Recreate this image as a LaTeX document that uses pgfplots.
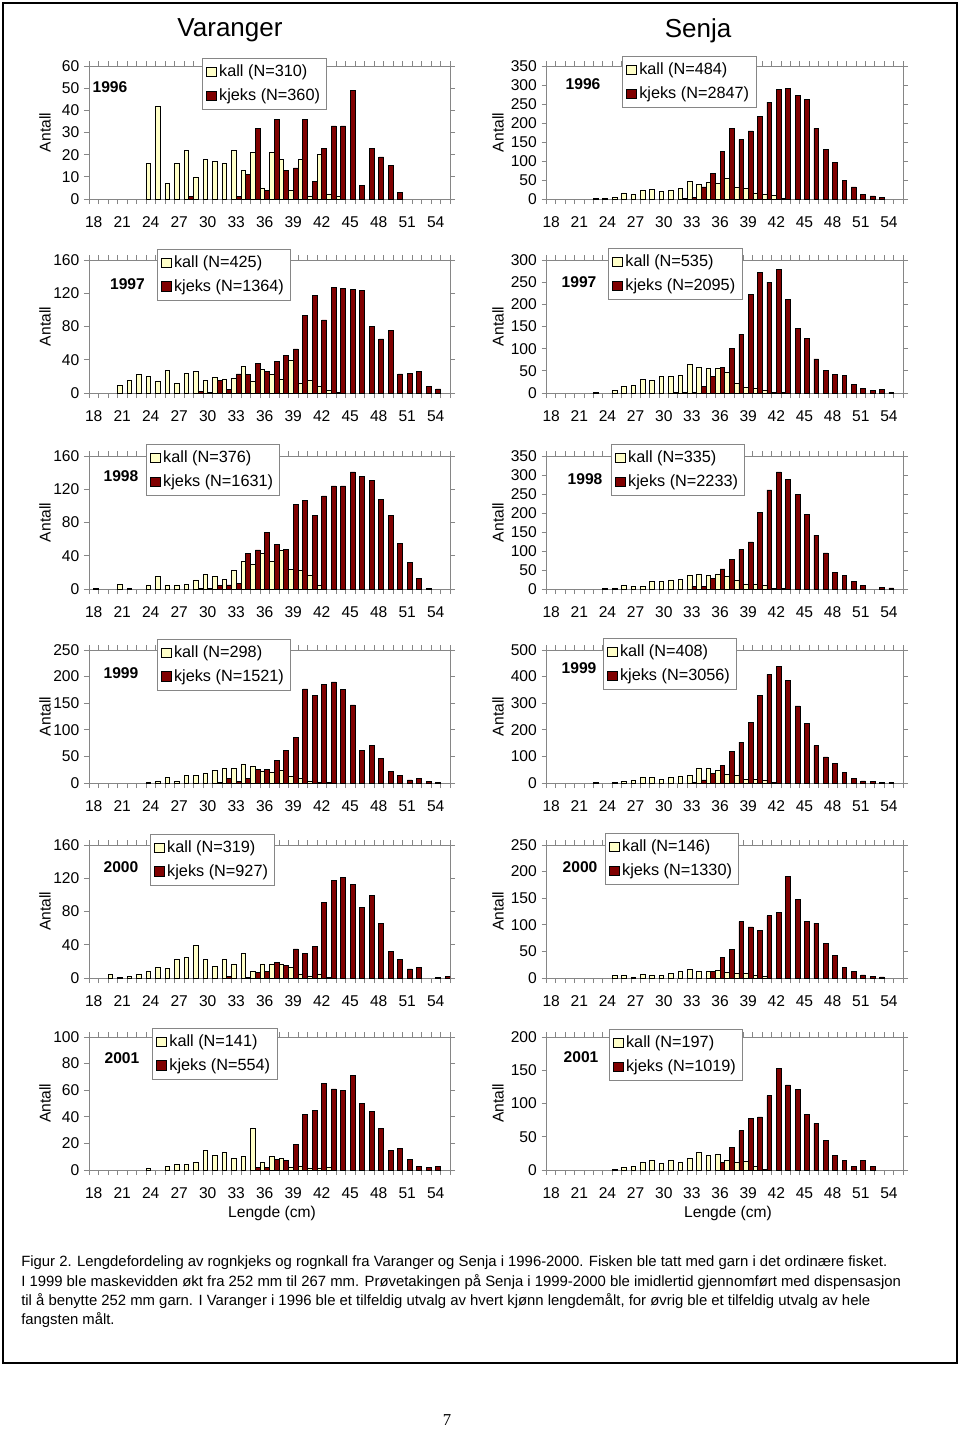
\documentclass[border=0pt]{standalone}
\usepackage{fontspec}
\setmainfont{Liberation Sans}
\newfontfamily\serifnum{Liberation Serif}
\usepackage{pgfplots}
\pgfplotsset{compat=1.18}
\definecolor{kall}{HTML}{FFFFC8}
\definecolor{kjeks}{HTML}{800000}
\definecolor{axgray}{HTML}{868686}
\newcommand{\tickf}{\fontsize{11.7}{13}\selectfont}
\newcommand{\legf}{\fontsize{12.2}{14}\selectfont}
\newcommand{\capf}{\fontsize{11.15}{13}\selectfont}
\pgfplotsset{
  panel/.style={
    scale only axis, height=99.75pt,
    xmin=17.5, xmax=55.5, ymin=0, enlargelimits=false,
    axis line style={draw=axgray, line width=0.6pt},
    tick style={draw=axgray, line width=0.6pt},
    tick align=outside, major tick length=3.75pt,
    xtick={17.5,18.5,...,55.5}, xticklabels={},
    extra x ticks={18,21,...,54},
    extra x tick labels={18,21,24,27,30,33,36,39,42,45,48,51,54},
    extra x tick style={major tick length=0pt},
    xticklabel style={font=\tickf, yshift=-9.5pt},
    yticklabel style={font=\tickf},
    /pgf/number format/assume math mode=true,
    ybar, bar width=0.5,
    legend style={draw=axgray, fill=white, anchor=north west, font=\legf,
       inner xsep=3pt, inner ysep=3pt, row sep=3.5pt},
    legend cell align=left,
  },
  lp/.style={panel, width=270.75pt},
  rp/.style={panel, width=267.375pt},
  kallbar/.style={fill=kall, draw=black, line width=0.45pt, bar shift=-0.25,
    legend image code/.code={\draw[fill=kall,draw=black,line width=0.5pt] (0pt,-3.6pt) rectangle (7.2pt,3.6pt);}},
  kjeksbar/.style={fill=kjeks, draw=black, line width=0.45pt, bar shift=0.25,
    legend image code/.code={\draw[fill=kjeks,draw=black,line width=0.5pt] (0pt,-3.6pt) rectangle (7.2pt,3.6pt);}},
}
\begin{document}
\begin{tikzpicture}
\path[use as bounding box] (0pt,0pt) rectangle (720pt,-1071.75pt);
\draw[line width=1.2pt] (2.25pt,-2.25pt) rectangle (717.75pt,-1022.25pt);
\node[font=\fontsize{19.5}{22}\selectfont] at (172.5pt,-23pt) {Varanger};
\node[font=\fontsize{19.5}{22}\selectfont] at (523.5pt,-23pt) {Senja};

% ---------- Row 1: 1996 ----------
\begin{axis}[lp, at={(66.75pt,-149.25pt)}, anchor=south west,
  ymax=60, ytick={0,10,...,60}, legend style={at={(0.313,1.060)}}]
\addplot[kallbar] coordinates {(24,16)(25,42)(26,7)(27,16)(28,22)(29,10)(30,18)(31,17)(32,16)(33,22)(34,13)(35,21)(36,5)(37,21)(38,18)(39,4)(40,18)(41,1)(42,20)(43,2)(44,1)};
\addplot[kjeksbar] coordinates {(28,1)(33,1)(34,11)(35,32)(36,4)(37,36)(38,13)(39,14)(40,36)(41,8)(42,23)(43,33)(44,33)(45,49)(46,6)(47,23)(48,19)(49,15)(50,3)};
\legend{kall (N=310), kjeks (N=360)}
\end{axis}
\begin{axis}[rp, at={(409.875pt,-149.25pt)}, anchor=south west,
  ymax=350, ytick={0,50,...,350}, legend style={at={(0.212,1.075)}}]
\addplot[kallbar] coordinates {(23,2)(24,3)(25,4)(26,16)(27,13)(28,23)(29,25)(30,20)(31,23)(32,27)(33,46)(34,39)(35,44)(36,42)(37,55)(38,31)(39,27)(40,15)(41,12)(42,10)(43,2)};
\addplot[kjeksbar] coordinates {(32,1)(33,5)(34,32)(35,68)(36,125)(37,186)(38,156)(39,179)(40,217)(41,255)(42,288)(43,292)(44,273)(45,263)(46,186)(47,130)(48,96)(49,50)(50,32)(51,13)(52,8)(53,4)};
\legend{kall (N=484), kjeks (N=2847)}
\end{axis}

% ---------- Row 2: 1997 ----------
\begin{axis}[lp, at={(66.75pt,-294.75pt)}, anchor=south west,
  ymax=160, ytick={0,40,...,160}, legend style={at={(0.188,1.083)}}]
\addplot[kallbar] coordinates {(21,9)(22,15)(23,22)(24,20)(25,14)(26,27)(27,12)(28,24)(29,26)(30,15)(31,19)(32,17)(33,18)(34,32)(35,14)(36,28)(37,22)(38,17)(39,39)(40,12)(41,15)(42,8)(43,3)(44,1)};
\addplot[kjeksbar] coordinates {(29,2)(30,1)(31,15)(32,4)(33,23)(34,22)(35,36)(36,26)(37,38)(38,45)(39,53)(40,93)(41,117)(42,88)(43,127)(44,126)(45,125)(46,123)(47,80)(48,65)(49,75)(50,23)(51,24)(52,26)(53,8)(54,5)};
\legend{kall (N=425), kjeks (N=1364)}
\end{axis}
\begin{axis}[rp, at={(409.875pt,-294.75pt)}, anchor=south west,
  ymax=300, ytick={0,50,...,300}, legend style={at={(0.173,1.090)}}]
\addplot[kallbar] coordinates {(23,1)(25,6)(26,15)(27,17)(28,30)(29,29)(30,37)(31,37)(32,40)(33,65)(34,58)(35,56)(36,55)(37,47)(38,22)(39,12)(40,10)(41,5)(42,2)(43,1)};
\addplot[kjeksbar] coordinates {(31,1)(32,2)(33,1)(34,15)(35,37)(36,58)(37,100)(38,133)(39,223)(40,272)(41,250)(42,278)(43,212)(44,146)(45,124)(46,77)(47,51)(48,42)(49,39)(50,20)(51,10)(52,6)(53,8)(54,2)};
\legend{kall (N=535), kjeks (N=2095)}
\end{axis}

% ---------- Row 3: 1998 ----------
\begin{axis}[lp, at={(66.75pt,-441.75pt)}, anchor=south west,
  ymax=160, ytick={0,40,...,160}, legend style={at={(0.158,1.090)}}]
\addplot[kallbar] coordinates {(21,6)(22,1)(24,5)(25,15)(26,5)(27,5)(28,6)(29,11)(30,18)(31,15)(32,12)(33,22)(34,33)(35,30)(36,43)(37,33)(38,46)(39,24)(40,22)(41,17)(42,5)};
\addplot[kjeksbar] coordinates {(18,1)(29,1)(30,1)(31,4)(32,5)(33,7)(34,43)(35,47)(36,68)(37,54)(38,48)(39,102)(40,107)(41,89)(42,112)(43,124)(44,124)(45,141)(46,135)(47,131)(48,108)(49,89)(50,55)(51,32)(52,13)(53,1)};
\legend{kall (N=376), kjeks (N=1631)}
\end{axis}
\begin{axis}[rp, at={(409.875pt,-441.75pt)}, anchor=south west,
  ymax=350, ytick={0,50,...,350}, legend style={at={(0.181,1.090)}}]
\addplot[kallbar] coordinates {(24,2)(25,3)(26,9)(27,6)(28,7)(29,19)(30,19)(31,24)(32,25)(33,37)(34,40)(35,35)(36,40)(37,34)(38,24)(39,13)(40,13)(41,9)(42,2)(43,1)};
\addplot[kjeksbar] coordinates {(33,7)(34,7)(35,28)(36,53)(37,77)(38,104)(39,124)(40,202)(41,261)(42,308)(43,288)(44,250)(45,196)(46,142)(47,95)(48,44)(49,35)(50,21)(51,9)(53,4)(54,3)};
\legend{kall (N=335), kjeks (N=2233)}
\end{axis}

% ---------- Row 4: 1999 ----------
\begin{axis}[lp, at={(66.75pt,-587.25pt)}, anchor=south west,
  ymax=250, ytick={0,50,...,250}, legend style={at={(0.188,1.083)}}]
\addplot[kallbar] coordinates {(24,2)(25,3)(26,11)(27,4)(28,14)(29,15)(30,18)(31,24)(32,27)(33,27)(34,36)(35,32)(36,22)(37,20)(38,23)(39,13)(40,8)(41,4)(42,2)(43,1)};
\addplot[kjeksbar] coordinates {(31,1)(32,8)(33,3)(34,9)(35,25)(36,25)(37,43)(38,61)(39,85)(40,177)(41,165)(42,185)(43,190)(44,176)(45,147)(46,61)(47,71)(48,47)(49,22)(50,15)(51,6)(52,8)(53,3)(54,1)};
\legend{kall (N=298), kjeks (N=1521)}
\end{axis}
\begin{axis}[rp, at={(409.875pt,-587.25pt)}, anchor=south west,
  ymax=500, ytick={0,100,...,500}, legend style={at={(0.158,1.090)}}]
\addplot[kallbar] coordinates {(23,1)(25,2)(26,5)(27,11)(28,23)(29,21)(30,14)(31,20)(32,27)(33,30)(34,57)(35,56)(36,47)(37,33)(38,29)(39,13)(40,13)(41,9)(42,3)};
\addplot[kjeksbar] coordinates {(33,2)(34,12)(35,36)(36,66)(37,119)(38,154)(39,229)(40,329)(41,408)(42,438)(43,386)(44,290)(45,225)(46,141)(47,98)(48,73)(49,39)(50,16)(51,8)(52,6)(53,3)(54,2)};
\legend{kall (N=408), kjeks (N=3056)}
\end{axis}

% ---------- Row 5: 2000 ----------
\begin{axis}[lp, at={(66.75pt,-733.5pt)}, anchor=south west,
  ymax=160, ytick={0,40,...,160}, legend style={at={(0.169,1.083)}}]
\addplot[kallbar] coordinates {(20,4)(21,1)(22,2)(23,4)(24,8)(25,13)(26,12)(27,23)(28,25)(29,39)(30,22)(31,14)(32,23)(33,17)(34,30)(35,8)(36,17)(37,17)(38,17)(39,13)(40,4)(41,2)(42,5)(43,1)};
\addplot[kjeksbar] coordinates {(32,2)(34,1)(35,7)(36,8)(37,19)(38,15)(39,35)(40,30)(41,38)(42,91)(43,117)(44,121)(45,113)(46,85)(47,99)(48,66)(49,32)(50,22)(51,11)(52,13)(54,1)(55,2)};
\legend{kall (N=319), kjeks (N=927)}
\end{axis}
\begin{axis}[rp, at={(409.875pt,-733.5pt)}, anchor=south west,
  ymax=250, ytick={0,50,...,250}, legend style={at={(0.164,1.090)}}]
\addplot[kallbar] coordinates {(25,5)(26,6)(27,2)(28,7)(29,6)(30,6)(31,9)(32,13)(33,16)(34,12)(35,12)(36,15)(37,11)(38,9)(39,9)(40,6)(41,3)};
\addplot[kjeksbar] coordinates {(35,12)(36,39)(37,54)(38,106)(39,96)(40,89)(41,117)(42,124)(43,191)(44,148)(45,107)(46,103)(47,65)(48,42)(49,20)(50,12)(51,6)(52,3)(53,2)};
\legend{kall (N=146), kjeks (N=1330)}
\end{axis}

% ---------- Row 6: 2001 ----------
\begin{axis}[lp, at={(66.75pt,-877.5pt)}, anchor=south west,
  ymax=100, ytick={0,20,...,100}, legend style={at={(0.175,1.068)}}]
\addplot[kallbar] coordinates {(24,1)(26,3)(27,4)(28,4)(29,6)(30,15)(31,11)(32,13)(33,9)(34,10)(35,31)(36,6)(37,10)(38,9)(39,2)(40,3)(41,1)(42,1)(43,2)};
\addplot[kjeksbar] coordinates {(35,2)(36,2)(37,8)(38,7)(39,19)(40,42)(41,45)(42,65)(43,61)(44,60)(45,71)(46,50)(47,44)(48,31)(49,15)(50,16)(51,8)(52,3)(53,2)(54,3)};
\legend{kall (N=141), kjeks (N=554)}
\end{axis}
\begin{axis}[rp, at={(409.875pt,-877.5pt)}, anchor=south west,
  ymax=200, ytick={0,50,...,200}, legend style={at={(0.175,1.060)}}]
\addplot[kallbar] coordinates {(25,1)(26,4)(27,6)(28,12)(29,14)(30,10)(31,15)(32,11)(33,18)(34,26)(35,22)(36,23)(37,14)(38,11)(39,13)(40,6)(41,1)};
\addplot[kjeksbar] coordinates {(36,11)(37,34)(38,59)(39,78)(40,80)(41,112)(42,153)(43,128)(44,121)(45,84)(46,70)(47,45)(48,22)(49,15)(50,5)(51,14)(52,5)};
\legend{kall (N=197), kjeks (N=1019)}
\end{axis}

% ---------- year labels ----------
\begin{scope}[every node/.style={font=\bfseries\fontsize{11.7}{13}\selectfont}]
\node at (82.5pt,-65.25pt) {1996};
\node at (437.25pt,-63pt) {1996};
\node at (95.6pt,-213pt) {1997};
\node at (434.25pt,-211.5pt) {1997};
\node at (90.75pt,-357pt) {1998};
\node at (438.75pt,-359.25pt) {1998};
\node at (90.75pt,-504.75pt) {1999};
\node at (434.25pt,-501pt) {1999};
\node at (90.75pt,-650.25pt) {2000};
\node at (435pt,-650.25pt) {2000};
\node at (91.5pt,-793.5pt) {2001};
\node at (435.75pt,-792.75pt) {2001};
\end{scope}

% ---------- Antall labels ----------
\begin{scope}[every node/.style={font=\fontsize{11.7}{13}\selectfont, rotate=90}]
\foreach \yy in {-99.4,-244.9,-391.9,-537.4,-683.6,-827.6} {
  \node at (33.75pt,\yy pt) {Antall};
  \node at (373.5pt,\yy pt) {Antall};
}
\end{scope}

\node[font=\fontsize{11.7}{13}\selectfont] at (204pt,-909.75pt) {Lengde (cm)};
\node[font=\fontsize{11.7}{13}\selectfont] at (546pt,-909.75pt) {Lengde (cm)};

% ---------- caption ----------
\begin{scope}[every node/.style={font=\capf, anchor=west, inner sep=0pt}]
\node at (15.75pt,-947.25pt) {Figur 2. Lengdefordeling av rognkjeks og rognkall fra Varanger og Senja i 1996-2000. Fisken ble tatt med garn i det ordinære fisket.};
\node at (15.75pt,-961.5pt) {I 1999 ble maskevidden økt fra 252 mm til 267 mm. Prøvetakingen på Senja i 1999-2000 ble imidlertid gjennomført med dispensasjon};
\node at (15.75pt,-975.75pt) {til å benytte 252 mm garn. I Varanger i 1996 ble et tilfeldig utvalg av hvert kjønn lengdemålt, for øvrig ble et tilfeldig utvalg av hele};
\node at (15.75pt,-990pt) {fangsten målt.};
\end{scope}

\node[font=\serifnum\fontsize{12.5}{14}\selectfont] at (335.25pt,-1065pt) {7};
\end{tikzpicture}
\end{document}
